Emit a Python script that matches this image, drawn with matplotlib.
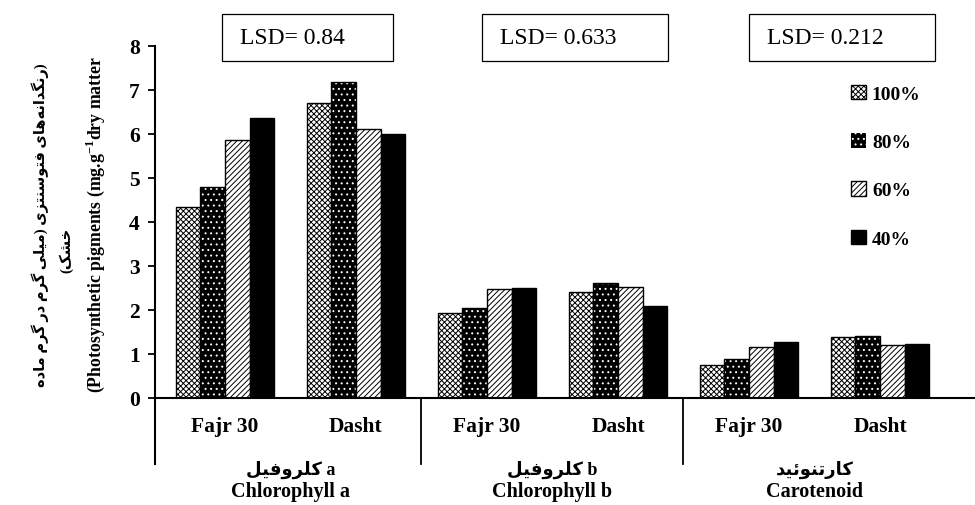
import numpy as np
import matplotlib
matplotlib.use('Agg')
from matplotlib import pyplot as plt
from matplotlib.patches import Rectangle

# data
cultivars = ['Fajr 30', 'Dasht', 'Fajr 30', 'Dasht', 'Fajr 30', 'Dasht']
groups_fa = ['کلروفیل a', 'کلروفیل b', 'کارتنوئید']
groups_en = ['Chlorophyll a', 'Chlorophyll b', 'Carotenoid']
lsd_labels = ['LSD= 0.84', 'LSD= 0.633', 'LSD= 0.212']
levels = ['100%', '80%', '60%', '40%']
v100 = [4.35, 6.70, 1.93, 2.42, 0.75, 1.39]
v80 = [4.80, 7.19, 2.04, 2.62, 0.89, 1.42]
v60 = [5.87, 6.11, 2.48, 2.52, 1.17, 1.20]
v40 = [6.36, 5.99, 2.49, 2.10, 1.27, 1.23]

ylabel_fa1 = '(رنگدانه‌های فتوسنتزی (میلی گرم در گرم ماده'
ylabel_fa2 = 'خشک)'
ylabel_en = '(Photosynthetic pigments (mg.g$^{\\mathbf{-1}}$dry matter'

# minimal persian shaping (matplotlib has no complex text layout)
FORMS = {
  '\u0627': ('\uFE8D', '\uFE8E', None, None),
  '\u062F': ('\uFEA9', '\uFEAA', None, None),
  '\u0631': ('\uFEAD', '\uFEAE', None, None),
  '\u0632': ('\uFEAF', '\uFEB0', None, None),
  '\u0648': ('\uFEED', '\uFEEE', None, None),
  '\u0646': ('\uFEE5', '\uFEE6', '\uFEE7', '\uFEE8'),
  '\u0647': ('\uFEE9', '\uFEEA', '\uFEEB', '\uFEEC'),
  '\u06CC': ('\uFBFC', '\uFBFD', '\uFBFE', '\uFBFF'),
  '\u0641': ('\uFED1', '\uFED2', '\uFED3', '\uFED4'),
  '\u062A': ('\uFE95', '\uFE96', '\uFE97', '\uFE98'),
  '\u0633': ('\uFEB1', '\uFEB2', '\uFEB3', '\uFEB4'),
  '\u0645': ('\uFEE1', '\uFEE2', '\uFEE3', '\uFEE4'),
  '\u0644': ('\uFEDD', '\uFEDE', '\uFEDF', '\uFEE0'),
  '\u062E': ('\uFEA5', '\uFEA6', '\uFEA7', '\uFEA8'),
  '\u0634': ('\uFEB5', '\uFEB6', '\uFEB7', '\uFEB8'),
  '\u06A9': ('\uFB8E', '\uFB8F', '\uFB90', '\uFB91'),
  '\u06AF': ('\uFB92', '\uFB93', '\uFB94', '\uFB95'),
  '\u0626': ('\uFE89', '\uFE8A', '\uFE8B', '\uFE8C'),
}

def shape(s):
  out = []
  for i, c in enumerate(s):
    if c not in FORMS:
      out.append(c)
      continue
    prev = s[i-1] if i > 0 else None
    nxt = s[i+1] if i+1 < len(s) else None
    jp = prev in FORMS and FORMS[prev][2] is not None
    jn = nxt in FORMS and FORMS[c][2] is not None
    iso, fin, ini, med = FORMS[c]
    if jp and jn:
      out.append(med)
    elif jp:
      out.append(fin)
    elif jn:
      out.append(ini)
    else:
      out.append(iso)
  return ''.join(x for x in out if x != '\u200c')

def visual(s):
  t = shape(s)[::-1]
  return t.translate(str.maketrans('()', ')('))

def fa_label(s):
  # persian word followed by latin letter
  if s[-2:] in (' a', ' b'):
    return visual(s[:-2]) + s[-2:]
  return visual(s)

plt.rcParams['font.family'] = 'Liberation Serif'
plt.rcParams['mathtext.fontset'] = 'custom'
plt.rcParams['mathtext.rm'] = 'Liberation Serif'
plt.rcParams['mathtext.bf'] = 'Liberation Serif:bold'
plt.rcParams['hatch.linewidth'] = 0.7
FA = ['Liberation Serif', 'DejaVu Sans']

W, H = 975., 506.
fig = plt.figure(figsize=(9.75, 5.06), dpi=100)
ax = fig.add_axes([155/W, 1-399/H, 820/W, 352/H])

x = np.arange(len(cultivars))
bw = 0.1875
off = (np.arange(4) - 1.5) * bw

ax.bar(x+off[0], v100, bw, color='white', edgecolor='black', hatch='xxxxxx', lw=1, label=levels[0])
ax.bar(x+off[1], v80, bw, color='black', edgecolor='white', hatch='...', lw=0, label=levels[1])
ax.bar(x+off[1], v80, bw, fill=False, edgecolor='black', lw=1)
ax.bar(x+off[2], v60, bw, color='white', edgecolor='black', hatch='//////', lw=1, label=levels[2])
ax.bar(x+off[3], v40, bw, color='black', edgecolor='black', lw=1, label=levels[3])

ax.set_xlim(-0.534, 5.725)
ax.set_ylim(0, 8)
ax.set_yticks(range(9))
ax.set_xticks(x)
ax.set_xticklabels(cultivars, fontsize=15.5, fontweight='bold')
ax.tick_params(axis='x', length=0, pad=13)
ax.tick_params(axis='y', length=5, width=1.3, direction='out', labelsize=15.5, pad=6)
for lab in ax.get_yticklabels():
  lab.set_fontweight('bold')
for s in ['top', 'right']:
  ax.spines[s].set_visible(False)
for s in ['left', 'bottom']:
  ax.spines[s].set_linewidth(1.5)

# multi-level category axis lines
tr = ax.get_xaxis_transform()
ax.plot([-0.534, -0.534], [0, -0.1875], color='black', lw=1.5, transform=tr, clip_on=False)
for sep in [1.5, 3.5]:
  ax.plot([sep, sep], [0, -0.1875], color='black', lw=1.3, transform=tr, clip_on=False)

for i in range(3):
  cx = (x[2*i] + x[2*i+1]) / 2.
  ax.text(cx, -0.2, fa_label(groups_fa[i]), transform=tr, ha='center', va='center',
          fontsize=13, fontweight='bold', family=FA)
  ax.text(cx, -0.265, groups_en[i], transform=tr, ha='center', va='center',
          fontsize=14.5, fontweight='bold')

# LSD boxes
boxes = [(222, 171), (482, 186), (749, 186)]
for (bx, bwid), txt in zip(boxes, lsd_labels):
  fig.patches.append(Rectangle((bx/W, 1-62/H), bwid/W, 47/H, transform=fig.transFigure,
                               fill=False, edgecolor='black', lw=0.9))
  fig.text((bx+18)/W, 1-39/H, txt, fontsize=17, ha='left', va='center')

# y label
fig.text(40/W, 1-225/H, visual(ylabel_fa1), rotation=90, ha='center', va='center',
         fontsize=10.5, fontweight='bold', family=FA)
fig.text(66/W, 1-250/H, visual(ylabel_fa2), rotation=90, ha='center', va='center',
         fontsize=10.5, fontweight='bold', family=FA)
fig.text(95/W, 1-225/H, ylabel_en, rotation=90, ha='center', va='center',
         fontsize=12.8, fontweight='bold')

ax.legend(loc='upper left', bbox_to_anchor=(833/W, 1-68/H), bbox_transform=fig.transFigure,
          frameon=False, prop={'size': 14, 'weight': 'bold'}, labelspacing=1.55,
          handlelength=0.8, handleheight=0.8, handletextpad=0.3)

fig.savefig('out.png', dpi=100)
